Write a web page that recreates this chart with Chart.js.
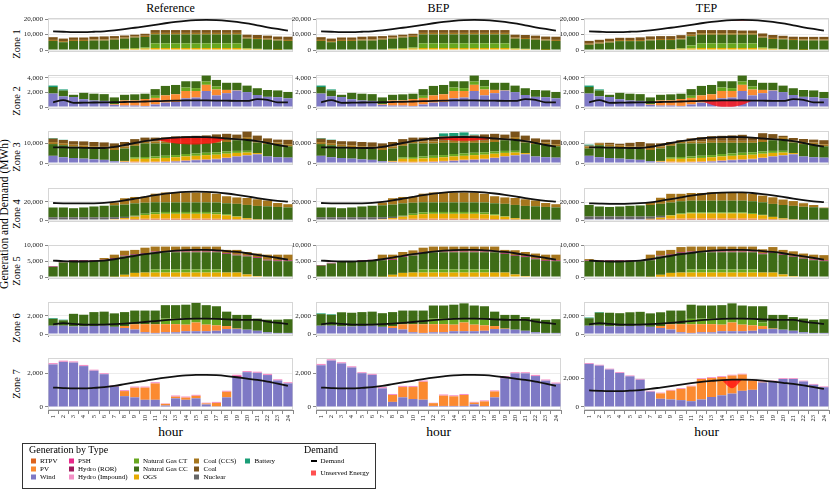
<!DOCTYPE html>
<html lang="en">
<head>
<meta charset="UTF-8">
<title>Generation and Demand by Zone</title>
<script src="https://cdn.jsdelivr.net/npm/chart.js"></script>
<style>
    body { margin: 0; background: #fff; }
    #page { position: relative; width: 830px; height: 489px; overflow: hidden;
            font-family: "Liberation Serif", "Times New Roman", serif; color: #000; }
    #page canvas { position: absolute; }
    .lbl { position: absolute; white-space: nowrap; line-height: 1; }
    .col-title { font-size: 12px; top: 2px; transform: translateX(-50%); }
    .hour { font-size: 13.5px; top: 425px; transform: translateX(-50%); }
    .rot { transform: translate(-50%, -50%) rotate(-90deg); }
    .zone { font-size: 10.5px; left: 16.8px; }
    .ytitle { font-size: 11.5px; left: 5.4px; top: 214px; }
    #legendBox { position: absolute; left: 22px; top: 443px; width: 352px; height: 44px; border: 1px solid #333; }
    .lg-title { font-size: 10px; top: 445px; }
    .lg-item { font-size: 7px; transform: translateY(-50%); }
    .sw { position: absolute; width: 5px; height: 5px; transform: translateY(-50%); }
</style>
</head>
<body>
<div id="page">
    <div class="lbl col-title" style="left:170.5px">Reference</div>
    <div class="lbl col-title" style="left:438.5px">BEP</div>
    <div class="lbl col-title" style="left:706.5px">TEP</div>
    <div class="lbl ytitle rot">Generation and Demand (MWh)</div>
    <div class="lbl hour" style="left:170.5px">hour</div>
    <div class="lbl hour" style="left:438.5px">hour</div>
    <div class="lbl hour" style="left:706.5px">hour</div>
    <div id="legendBox"></div>
</div>

<script>
    // hours on the x axis
    const hours = ['1','2','3','4','5','6','7','8','9','10','11','12','13','14','15','16','17','18','19','20','21','22','23','24'];

    // ---- Zone 1 ----
    const z1Demand = [12000,11800,11600,11600,11800,12100,12700,13500,14400,15300,16300,17300,18200,18900,19300,19450,19300,18900,18200,17200,16000,14700,13600,12600];
    const z1Ogs    = [0,0,0,0,0,0,300,600,800,1000,1300,1300,1300,1300,1300,1300,1300,1300,1300,800,600,300,100,0];
    const z1Ngct   = [0,0,0,0,0,0,0,300,500,700,3000,3000,3000,3000,3000,3000,3000,3000,3000,400,200,0,0,0];
    const z1Ngcc   = [5850,5050,5850,5850,6100,6100,6370,6450,6730,6700,5770,5770,5770,5770,5770,5770,5770,5770,5770,6150,6270,6370,6000,5850];
    const z1Ccs    = [700,700,700,700,700,700,700,700,700,800,1000,1000,1000,1000,1000,1000,1000,1000,1000,700,700,700,700,700];
    const z1Coal   = [1750,1650,1550,1550,1800,2000,1630,1350,1170,1300,1830,1830,1830,1830,1830,1830,1830,1830,1830,1850,1930,1930,1900,2050];
    const z1tOgs   = [0,0,0,0,0,0,300,500,600,800,1000,1300,1300,1300,1300,1300,1300,1000,700,500,300,100,0,0];
    const z1tNgct  = [0,0,0,0,0,0,0,0,0,300,2000,3000,3000,3000,3000,3000,3000,800,300,0,0,0,0,0];
    const z1tNgcc  = [3400,4100,4800,5750,5750,5750,5860,5940,5840,5750,5900,5560,5560,5560,5560,5560,5560,6150,6120,6350,6140,6060,6160,6160];
    const z1tCcs   = [700,700,700,700,700,700,700,700,700,700,1000,1000,1000,1000,1000,1000,1000,700,700,700,700,700,700,700];
    const z1tCoal  = [1800,1800,1800,1450,1450,1750,1940,1860,1860,2050,1700,2040,2040,2040,2040,1740,1740,2050,1880,1650,1460,1640,1640,1640];
    const z1tUnsLow = [null,null,null,null,null,null,null,null,null,null,null,null,null,18900,18900,19000,19300,null,null,null,null,null,null,null];
    const z1tUnsTop = [null,null,null,null,null,null,null,null,null,null,null,null,null,18900,19300,19450,19300,null,null,null,null,null,null,null];

    // ---- Zone 2 ----
    const z2Demand  = [630,960,570,600,620,640,660,690,720,760,800,850,880,900,900,900,890,870,850,840,1080,990,650,640];
    const z2Wind    = [1850,1470,1380,1080,900,840,300,200,200,150,350,600,700,1200,1300,2200,1600,1900,2250,2050,1650,1400,1350,1200];
    const z2Pv      = [0,0,0,0,0,0,100,700,700,950,900,1000,1050,1000,900,850,800,450,50,0,0,0,0,0];
    const z2Ngct    = [0,0,0,0,0,0,0,0,0,0,300,0,0,480,400,450,420,0,0,0,0,0,0,0];
    const z2Ngcc    = [900,800,300,870,930,930,920,780,840,730,910,1300,1280,860,940,820,900,980,1030,890,930,940,930,870];
    const z2Battery = [200,150,0,0,0,0,0,0,0,0,0,0,0,0,0,0,0,0,0,0,0,0,0,0];
    const z2tUnsLow = [null,null,null,null,null,null,null,null,null,null,null,850,300,20,30,300,890,null,null,null,null,null,null,null];
    const z2tUnsTop = [null,null,null,null,null,null,null,null,null,null,null,850,880,900,900,900,890,null,null,null,null,null,null,null];

    // ---- Zone 3 ----
    const z3Demand  = [7800,7800,7700,7600,7500,7500,8100,9000,10000,10900,11700,12300,12700,12900,13000,12900,12700,12300,11900,11500,10900,10000,9000,8200];
    const z3Wind    = [3600,2900,2500,2200,1850,1600,870,540,330,300,400,540,760,1090,1400,1630,1850,2500,3260,3800,4350,3260,2900,2700];
    const z3Pv      = [0,0,0,0,0,0,0,200,400,300,300,300,300,300,300,300,300,250,200,100,0,0,0,0];
    const z3Ogs     = [0,0,0,0,0,0,0,300,1400,1500,1600,1700,1800,1900,1900,2000,2000,1900,1600,1300,600,0,0,0];
    const z3Ngct    = [0,0,0,0,0,0,0,0,760,900,1000,1100,1100,1200,1200,1200,1200,1100,1000,900,0,0,0,0];
    const z3Ngcc    = [5860,6000,5650,5700,5550,5470,5630,6240,5700,6780,6480,6140,6140,5610,5300,4970,4750,4750,5340,5860,5270,6200,6340,5670];
    const z3Ccs     = [1000,1000,1000,1000,1000,1000,1000,1000,1000,1000,1000,1000,1000,1000,1000,1000,1000,1000,1000,1000,1000,1000,1000,1000];
    const z3Coal    = [1740,1600,1750,1900,2100,2230,2300,2220,2360,1920,1920,2020,2200,2300,2500,2700,3200,3100,1800,2740,2480,1840,1460,2230];
    const z3Battery = [300,100,0,0,0,0,0,0,0,0,0,0,0,0,0,0,0,0,0,0,0,0,0,0];
    const z3UnsLow  = [null,null,null,null,null,null,null,null,null,null,11700,10600,9800,9400,9300,9600,10300,12300,null,null,null,null,null,null];
    const z3UnsTop  = [null,null,null,null,null,null,null,null,null,null,11700,12300,12700,12900,13000,12900,12700,12300,null,null,null,null,null,null];
    const z3bBattery = [300,150,0,0,0,0,0,0,0,0,0,0,1500,1600,1700,400,0,0,0,0,0,0,0,0];
    const z3bUnsLow = [null,null,null,null,null,null,null,null,null,null,null,12300,11700,11300,11100,11200,11700,12300,null,null,null,null,null,null];
    const z3bUnsTop = [null,null,null,null,null,null,null,null,null,null,null,12300,12700,12900,13000,12900,12700,12300,null,null,null,null,null,null];
    const z3tNgcc   = [3700,6000,5650,5700,5550,5470,5630,6240,5700,6780,6480,6140,6140,5610,5300,4970,4750,4750,5340,5860,5270,6200,6340,5670];
    const z3tCoal   = [400,200,950,700,1700,2430,2300,1520,910,620,1520,2120,2300,2500,2700,3000,1400,3400,2050,640,1280,1540,1460,2030];
    const z3tBattery = [500,0,0,0,0,0,0,0,0,0,0,0,0,0,0,0,0,0,0,0,0,0,0,0];

    // ---- Zone 4 ----
    const z4Demand  = [18600,18300,18100,18100,18300,18800,19800,21400,23300,25300,27200,28800,30000,30700,31000,30800,30200,29000,27500,25800,24000,22300,20900,20000];
    const z4Wind    = [600,600,600,600,600,600,600,600,300,300,300,300,300,300,300,300,300,300,300,300,300,300,300,300];
    const z4Pv      = [0,0,0,0,0,0,200,600,900,1100,1300,1300,1300,1300,1300,1300,1100,800,500,200,0,0,0,0];
    const z4Ogs     = [0,0,0,0,0,0,300,1000,2500,4000,4800,5200,5200,5200,5200,5200,4800,4000,2800,1500,600,200,0,0];
    const z4Nuclear = [2400,2400,2400,2400,2400,2400,2000,1200,500,0,0,0,0,0,0,0,0,0,0,0,0,0,0,0];
    const z4Ngct    = [0,0,0,0,0,0,0,0,500,1500,2000,2000,2000,2000,2000,2000,2000,1200,600,0,0,0,0,0];
    const z4Ngcc    = [10700,10700,9900,10700,11800,12600,13000,13500,13500,12000,11000,10500,10500,10500,10500,10500,11000,12000,13500,14500,14500,14500,14000,13500];
    const z4Ccs     = [0,0,0,0,0,0,3100,6900,7000,6600,9400,10800,10800,10800,10800,10800,9600,7700,7000,7600,7300,6400,4300,3500];
    const z4tWind    = [900,900,900,900,900,900,300,300,300,300,300,300,300,300,300,300,300,300,300,300,300,300,300,300];
    const z4tPv      = [0,0,0,0,0,0,400,800,1200,1400,1600,1600,1600,1600,1600,1600,1400,1000,600,300,0,0,0,0];
    const z4tOgs     = [0,0,0,0,0,0,600,1500,3500,4800,5500,5500,5500,5500,5500,5500,5000,4000,2600,1200,500,0,0,0];
    const z4tNuclear = [3000,3000,3000,3000,3000,3000,2500,2000,0,0,0,0,0,0,0,0,0,0,0,0,0,0,0,0];
    const z4tNgct    = [0,0,0,0,0,0,0,0,600,1000,1200,1200,1200,1200,1200,1200,1000,500,0,0,0,0,0,0];
    const z4tNgcc    = [12900,11200,10700,11200,12000,12400,13000,13500,14000,13500,13000,13000,13000,13000,13000,13000,13300,14000,14500,15000,15000,14500,14000,13000];
    const z4tCcs     = [0,0,0,0,0,0,3200,6800,9700,8300,8600,8600,9400,9400,8600,8600,8300,7500,7400,6100,5400,4000,2500,600];

    // ---- Zone 5 ----
    const z5Demand = [5200,5000,4900,4900,5000,5200,5600,6100,6700,7200,7600,8000,8300,8500,8550,8550,8400,8200,7900,7500,7000,6500,6000,5500];
    const z5Pv     = [0,0,0,0,0,0,0,100,100,100,100,100,100,100,100,100,100,100,100,0,0,0,0,0];
    const z5Ogs    = [0,0,0,0,0,0,100,600,1200,1300,1300,1300,1300,1300,1300,1300,1300,1300,1300,800,300,0,0,0];
    const z5Ngct   = [0,0,0,0,0,0,0,0,0,0,1000,1000,1000,1000,1000,1000,1000,0,0,0,0,0,0,0];
    const z5Ngcc   = [3200,4600,5100,5100,5100,5200,5600,5800,5700,5900,5400,5400,5400,5400,5400,5400,5400,5900,5400,5700,5700,5200,5000,5000];
    const z5Ror    = [200,250,250,250,250,250,250,250,250,250,250,250,250,250,250,250,250,250,250,250,250,250,250,250];
    const z5Ccs    = [0,0,0,0,0,550,1100,1550,1300,1700,1550,1550,1550,1550,1550,1550,1550,1000,1500,1150,1150,1600,1800,1800];
    const z5bNgcc  = [3600,4250,4800,4800,5100,5200,5200,4700,5000,5400,5200,5400,5400,5400,5400,5400,5400,6400,5900,5900,6000,5600,5100,5000];
    const z5bCcs   = [0,0,0,0,0,0,1500,1400,1350,1350,1400,1550,1550,1550,1550,1550,1550,1550,1000,1500,1350,1550,1700,1800];
    const z5tNgcc  = [5100,5000,5000,5000,5000,5000,5200,5800,5700,6200,5400,5400,5400,5400,5400,5400,5400,5800,6200,6200,6100,5800,5300,5000];
    const z5tCcs   = [350,100,100,100,100,100,1500,1550,1300,1600,1550,1550,1550,1550,1550,1550,1550,1300,1600,1300,1450,1350,1500,1650];

    // ---- Zone 6 ----
    const z6Demand  = [1080,1200,1120,1040,1040,1050,1090,1150,1240,1330,1440,1540,1620,1680,1710,1700,1670,1620,1580,1560,1560,1380,1230,1110];
    const z6Wind    = [920,920,840,840,890,920,800,670,500,190,120,190,190,310,310,310,360,550,550,480,360,190,120,120];
    const z6Pv      = [0,0,0,0,0,0,0,220,580,900,960,900,900,730,970,730,600,330,50,0,0,0,0,0];
    const z6Ngct    = [0,0,0,0,0,0,0,0,0,0,0,630,680,680,480,680,680,0,0,0,0,0,0,0];
    const z6Ngcc    = [760,600,1400,1300,1540,1560,1490,1540,1520,1510,1520,1480,1430,1530,1690,1480,1440,1600,1520,1640,1350,1400,1470,1520];
    const z6Battery = [80,70,0,0,0,0,0,0,0,0,0,0,0,0,0,0,0,0,0,0,0,0,0,0];
    const z6bNgcc   = [1290,1200,1570,1520,1540,1560,1510,1540,1520,1510,1520,1440,1390,1530,1640,1440,1440,1600,1520,1640,1520,1520,1450,1520];
    const z6tNgct   = [0,0,0,0,0,0,0,0,0,0,600,630,680,680,480,680,680,400,0,0,0,0,0,0];
    const z6tNgcc   = [830,1440,1520,1470,1520,1540,1490,1520,1520,1510,1570,1440,1390,1480,1640,1440,1440,1800,1520,1640,1520,1520,1450,1520];

    // ---- Zone 7 ----
    const z7Demand = [1150,1120,1100,1100,1130,1170,1250,1350,1450,1550,1650,1740,1810,1870,1900,1900,1880,1830,1760,1680,1600,1500,1380,1250];
    const z7Wind   = [2520,2670,2630,2420,2150,1940,1200,640,570,425,425,85,510,425,510,150,40,570,1780,2060,2020,1890,1570,1400];
    const z7Pv     = [0,0,0,0,0,0,0,300,570,720,970,100,100,130,150,60,200,330,0,0,0,0,0,0];
    const z7Psh    = [0,0,0,0,0,0,0,0,0,0,0,0,0,0,0,0,0,0,80,0,0,0,0,0];
    const z7Hydro  = [80,75,70,70,60,60,80,60,70,65,75,25,70,65,60,45,60,60,50,70,70,70,70,70];
    const z7bWind  = [2470,2750,2580,2340,2000,1900,1100,300,570,470,430,60,60,60,60,160,50,570,1700,1990,1990,1830,1560,1380];
    const z7bPv    = [0,0,0,0,0,0,0,410,610,710,1060,165,610,570,650,100,280,350,0,0,0,0,0,0];
    const z7tWind  = [2990,2870,2600,2360,2130,1890,1060,570,520,475,400,520,690,810,930,1120,1190,1700,1770,1940,1940,1770,1540,1370];
    const z7tPv    = [0,0,0,0,0,0,0,370,610,775,1020,1420,1320,1270,1250,1130,650,50,0,0,0,0,0,0];
    const z7tHydro = [60,60,60,60,60,60,60,60,60,60,60,60,60,60,60,60,60,60,60,60,60,60,60,60];
    const z7tUnsLow = [null,null,null,null,null,null,null,null,null,null,null,null,null,1870,1300,1900,null,null,null,null,null,null,null,null];
    const z7tUnsTop = [null,null,null,null,null,null,null,null,null,null,null,null,null,1870,1900,1900,null,null,null,null,null,null,null,null];

    // generation types, bottom of the stack first
    const genTypes = ['Wind','RTPV','PV','PSH','OGS','Nuclear','Natural Gas CT','Natural Gas CC','Hydro (ROR)','Hydro (Impound)','Coal (CCS)','Coal','Battery'];
    const genColors = {
        'RTPV': '#dd621c', 'PV': '#fb8a30', 'Wind': '#7e79c5',
        'PSH': '#e7298a', 'Hydro (ROR)': '#a0195c', 'Hydro (Impound)': '#f390c6',
        'Natural Gas CT': '#67a71f', 'Natural Gas CC': '#3e6c16', 'OGS': '#e6ab02',
        'Coal (CCS)': '#a6761d', 'Coal': '#7a531a', 'Nuclear': '#666666', 'Battery': '#1b9e77'
    };
    const unservedColor = 'rgba(255,20,20,0.82)';

    // one entry per zone: y max per scenario, ticks, demand, generation per scenario, unserved per scenario
    const zones = [
        { max: [20700, 20700, 20700], ticks: [0, 10000, 20000], demand: z1Demand,
          gen: [
              { 'OGS': z1Ogs, 'Natural Gas CT': z1Ngct, 'Natural Gas CC': z1Ngcc, 'Coal (CCS)': z1Ccs, 'Coal': z1Coal },
              { 'OGS': z1Ogs, 'Natural Gas CT': z1Ngct, 'Natural Gas CC': z1Ngcc, 'Coal (CCS)': z1Ccs, 'Coal': z1Coal },
              { 'OGS': z1tOgs, 'Natural Gas CT': z1tNgct, 'Natural Gas CC': z1tNgcc, 'Coal (CCS)': z1tCcs, 'Coal': z1tCoal }
          ],
          unserved: [null, null, [z1tUnsLow, z1tUnsTop]] },
        { max: [4400, 4400, 4400], ticks: [0, 2000, 4000], demand: z2Demand,
          gen: [
              { 'Wind': z2Wind, 'PV': z2Pv, 'Natural Gas CT': z2Ngct, 'Natural Gas CC': z2Ngcc, 'Battery': z2Battery },
              { 'Wind': z2Wind, 'PV': z2Pv, 'Natural Gas CT': z2Ngct, 'Natural Gas CC': z2Ngcc, 'Battery': z2Battery },
              { 'Wind': z2Wind, 'PV': z2Pv, 'Natural Gas CT': z2Ngct, 'Natural Gas CC': z2Ngcc, 'Battery': z2Battery }
          ],
          unserved: [null, null, [z2tUnsLow, z2tUnsTop]] },
        { max: [16000, 16000, 16000], ticks: [0, 10000], demand: z3Demand,
          gen: [
              { 'Wind': z3Wind, 'PV': z3Pv, 'OGS': z3Ogs, 'Natural Gas CT': z3Ngct, 'Natural Gas CC': z3Ngcc, 'Coal (CCS)': z3Ccs, 'Coal': z3Coal, 'Battery': z3Battery },
              { 'Wind': z3Wind, 'PV': z3Pv, 'OGS': z3Ogs, 'Natural Gas CT': z3Ngct, 'Natural Gas CC': z3Ngcc, 'Coal (CCS)': z3Ccs, 'Coal': z3Coal, 'Battery': z3bBattery },
              { 'Wind': z3Wind, 'PV': z3Pv, 'OGS': z3Ogs, 'Natural Gas CT': z3Ngct, 'Natural Gas CC': z3tNgcc, 'Coal (CCS)': z3Ccs, 'Coal': z3tCoal, 'Battery': z3tBattery }
          ],
          unserved: [[z3UnsLow, z3UnsTop], [z3bUnsLow, z3bUnsTop], null] },
        { max: [35000, 35000, 35800], ticks: [0, 20000], demand: z4Demand,
          gen: [
              { 'Wind': z4Wind, 'PV': z4Pv, 'OGS': z4Ogs, 'Nuclear': z4Nuclear, 'Natural Gas CT': z4Ngct, 'Natural Gas CC': z4Ngcc, 'Coal (CCS)': z4Ccs },
              { 'Wind': z4Wind, 'PV': z4Pv, 'OGS': z4Ogs, 'Nuclear': z4Nuclear, 'Natural Gas CT': z4Ngct, 'Natural Gas CC': z4Ngcc, 'Coal (CCS)': z4Ccs },
              { 'Wind': z4tWind, 'PV': z4tPv, 'OGS': z4tOgs, 'Nuclear': z4tNuclear, 'Natural Gas CT': z4tNgct, 'Natural Gas CC': z4tNgcc, 'Coal (CCS)': z4tCcs }
          ],
          unserved: [null, null, null] },
        { max: [10100, 10100, 10100], ticks: [0, 5000, 10000], demand: z5Demand,
          gen: [
              { 'PV': z5Pv, 'OGS': z5Ogs, 'Natural Gas CT': z5Ngct, 'Natural Gas CC': z5Ngcc, 'Hydro (ROR)': z5Ror, 'Coal (CCS)': z5Ccs },
              { 'PV': z5Pv, 'OGS': z5Ogs, 'Natural Gas CT': z5Ngct, 'Natural Gas CC': z5bNgcc, 'Hydro (ROR)': z5Ror, 'Coal (CCS)': z5bCcs },
              { 'PV': z5Pv, 'OGS': z5Ogs, 'Natural Gas CT': z5Ngct, 'Natural Gas CC': z5tNgcc, 'Hydro (ROR)': z5Ror, 'Coal (CCS)': z5tCcs }
          ],
          unserved: [null, null, null] },
        { max: [3550, 3550, 3550], ticks: [0, 2000], demand: z6Demand,
          gen: [
              { 'Wind': z6Wind, 'PV': z6Pv, 'Natural Gas CT': z6Ngct, 'Natural Gas CC': z6Ngcc, 'Battery': z6Battery },
              { 'Wind': z6Wind, 'PV': z6Pv, 'Natural Gas CT': z6Ngct, 'Natural Gas CC': z6bNgcc, 'Battery': z6Battery },
              { 'Wind': z6Wind, 'PV': z6Pv, 'Natural Gas CT': z6tNgct, 'Natural Gas CC': z6tNgcc, 'Battery': z6Battery }
          ],
          unserved: [null, null, null] },
        { max: [2900, 2900, 3400], ticks: [0, 2000], demand: z7Demand,
          gen: [
              { 'Wind': z7Wind, 'PV': z7Pv, 'PSH': z7Psh, 'Hydro (Impound)': z7Hydro },
              { 'Wind': z7bWind, 'PV': z7bPv, 'PSH': z7Psh, 'Hydro (Impound)': z7Hydro },
              { 'Wind': z7tWind, 'PV': z7tPv, 'Hydro (Impound)': z7tHydro }
          ],
          unserved: [null, null, [z7tUnsLow, z7tUnsTop]] }
    ];

    const FONT = '"Liberation Serif", "Times New Roman", serif';
    const colLeft = [48, 316, 584];
    const plotW = 245, plotH = 52, axisW = 44, padTop = 5, xAxisH = 18;

    // thin grey frame around each plot area
    const framePlugin = {
        id: 'frame',
        beforeDatasetsDraw(chart) {
            const a = chart.chartArea, ctx = chart.ctx;
            ctx.save();
            ctx.strokeStyle = '#d6d6d6';
            ctx.lineWidth = 1;
            ctx.strokeRect(a.left + 0.5, a.top + 0.5, a.right - a.left - 1, a.bottom - a.top - 1);
            ctx.restore();
        }
    };

    function makePanel(row, col) {
        const zone = zones[row];
        const gen = zone.gen[col];
        const yMax = zone.max[col];
        const last = row === zones.length - 1;

        const datasets = [];
        genTypes.forEach(type => {
            if (!gen[type]) return;
            datasets.push({
                type: 'bar', label: type, data: gen[type], stack: 'gen', order: 2,
                backgroundColor: genColors[type], borderWidth: 0,
                barPercentage: 0.9, categoryPercentage: 1.0
            });
        });

        const uns = zone.unserved[col];
        if (uns) {
            const lowIdx = datasets.length;
            datasets.push({ type: 'line', label: 'low', data: uns[0], stack: 'u0', order: 1,
                borderWidth: 0, pointRadius: 0, fill: false, cubicInterpolationMode: 'monotone' });
            datasets.push({ type: 'line', label: 'Unserved Energy', data: uns[1], stack: 'u1', order: 1,
                borderWidth: 0, pointRadius: 0, fill: lowIdx, backgroundColor: unservedColor,
                cubicInterpolationMode: 'monotone' });
        }

        datasets.push({ type: 'line', label: 'Demand', data: zone.demand, stack: 'dem', order: 0,
            borderColor: '#111', borderWidth: 1.8, pointRadius: 0, fill: false,
            cubicInterpolationMode: 'monotone' });

        const plotTop = Math.round(18 + row * 56.7);
        const cv = document.createElement('canvas');
        cv.width = axisW + plotW + 3;
        cv.height = padTop + plotH + (last ? xAxisH : 5);
        cv.style.left = (colLeft[col] - axisW) + 'px';
        cv.style.top = (plotTop - padTop) + 'px';
        document.getElementById('page').appendChild(cv);

        new Chart(cv.getContext('2d'), {
            type: 'bar',
            data: { labels: hours, datasets: datasets },
            options: {
                responsive: false,
                animation: false,
                events: [],
                layout: { padding: { top: padTop, right: 3, bottom: last ? 0 : 5, left: 0 } },
                plugins: { legend: { display: false }, tooltip: { enabled: false } },
                scales: {
                    x: {
                        stacked: true,
                        display: last,
                        grid: { display: true, drawOnChartArea: false, tickLength: 4, color: '#888' },
                        border: { color: '#888' },
                        ticks: { font: { family: FONT, size: 6.5 }, color: '#222', minRotation: 90, maxRotation: 90, padding: 1, autoSkip: false },
                        afterFit: s => { s.height = xAxisH; s.paddingLeft = 0; s.paddingRight = 0; }
                    },
                    y: {
                        stacked: true,
                        min: -yMax * 0.062,
                        max: yMax,
                        afterBuildTicks: s => { s.ticks = zone.ticks.map(v => ({ value: v })); },
                        // fixed axis width, and no extra room for the end labels
                        afterFit: s => { s.width = axisW; s.paddingTop = 0; s.paddingBottom = 0; },
                        grid: { color: '#ececec', tickLength: 3, tickColor: '#888' },
                        border: { color: '#888' },
                        ticks: { font: { family: FONT, size: 7 }, color: '#222', padding: 2,
                                 callback: v => v.toLocaleString('en-US') }
                    }
                }
            },
            plugins: [framePlugin]
        });
    }

    function addLabel(cls, text, style) {
        const d = document.createElement('div');
        d.className = 'lbl ' + cls;
        d.textContent = text;
        Object.assign(d.style, style);
        document.getElementById('page').appendChild(d);
        return d;
    }

    function buildLegend() {
        addLabel('lg-title', 'Generation by Type', { left: '29px' });
        addLabel('lg-title', 'Demand', { left: '304px' });
        const cols = [
            [30.5, ['RTPV', 'PV', 'Wind']],
            [68.5, ['PSH', 'Hydro (ROR)', 'Hydro (Impound)']],
            [133.5, ['Natural Gas CT', 'Natural Gas CC', 'OGS']],
            [194, ['Coal (CCS)', 'Coal', 'Nuclear']],
            [245, ['Battery']]
        ];
        const rowsY = [461, 469, 477];
        const page = document.getElementById('page');
        cols.forEach(([x, names]) => {
            names.forEach((name, i) => {
                const sw = document.createElement('div');
                sw.className = 'sw';
                sw.style.left = x + 'px';
                sw.style.top = rowsY[i] + 'px';
                sw.style.background = genColors[name];
                page.appendChild(sw);
                addLabel('lg-item', name, { left: (x + 9.5) + 'px', top: rowsY[i] + 'px' });
            });
        });
        // demand line sample
        const ln = document.createElement('div');
        Object.assign(ln.style, { position: 'absolute', left: '310.5px', top: '460px', width: '6px', height: '2px', background: '#000' });
        page.appendChild(ln);
        addLabel('lg-item', 'Demand', { left: '320.5px', top: '461px' });
        const us = document.createElement('div');
        us.className = 'sw';
        Object.assign(us.style, { left: '310.5px', top: '473px', background: '#ff5050' });
        page.appendChild(us);
        addLabel('lg-item', 'Unserved Energy', { left: '320.5px', top: '473px' });
    }

    window.onload = () => {
        for (let r = 0; r < zones.length; r++) {
            const plotTop = Math.round(18 + r * 56.7);
            addLabel('zone rot', 'Zone ' + (r + 1), { top: (plotTop + plotH / 2) + 'px' });
            for (let c = 0; c < 3; c++) makePanel(r, c);
        }
        buildLegend();
    };
</script>
</body>
</html>
